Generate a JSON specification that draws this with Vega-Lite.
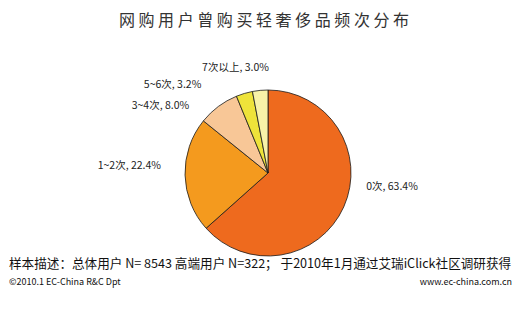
{
  "$schema": "https://vega.github.io/schema/vega-lite/v6.json",
  "padding": {"left": 0, "top": 13, "right": 0, "bottom": 0},
  "background": "white",
  "config": {"view": {"stroke": null}, "font": "Noto Sans CJK SC", "text": {"font": "Noto Sans CJK SC"}},
  "title": {"text": "网 购 用 户 曾 购 买 轻 奢 侈 品 频 次 分 布", "fontSize": 16, "fontWeight": "normal", "color": "#333333", "anchor": "middle", "offset": 26, "dx": -4, "font": "Noto Sans CJK SC"},
  "spacing": 18,
  "bounds": "flush",
  "vconcat": [
    {
      "width": 536,
      "height": 192,
      "data": {"values": [
        {"idx": 1, "cat": "0次", "share": 63.4, "label": "0次, 63.4%"},
        {"idx": 2, "cat": "1~2次", "share": 22.4, "label": "1~2次, 22.4%"},
        {"idx": 3, "cat": "3~4次", "share": 8.0, "label": "3~4次, 8.0%"},
        {"idx": 4, "cat": "5~6次", "share": 3.2, "label": "5~6次, 3.2%"},
        {"idx": 5, "cat": "7次以上", "share": 3.0, "label": "7次以上, 3.0%"}
      ]},
      "encoding": {
        "theta": {"field": "share", "type": "quantitative", "stack": true},
        "order": {"field": "idx", "type": "quantitative"}
      },
      "layer": [
        {
          "mark": {"type": "arc", "radius": 83, "stroke": "#1a1a1a", "strokeWidth": 0.8},
          "encoding": {
            "color": {"field": "cat", "type": "nominal", "legend": null,
              "scale": {"domain": ["0次", "1~2次", "3~4次", "5~6次", "7次以上"],
                        "range": ["#EE6A1E", "#F49A1E", "#F8C797", "#EEE33A", "#F8F2A8"]}}
          }
        },
        {
          "mark": {"type": "text", "radius": 90, "align": "left", "baseline": "middle", "dx": 16, "dy": -23, "fontSize": 10.5, "color": "#222222"},
          "encoding": {"text": {"condition": {"test": "datum.cat === '0次'", "field": "label"}, "value": ""}}
        },
        {
          "mark": {"type": "text", "radius": 90, "align": "right", "baseline": "middle", "dx": -17, "dy": -9, "fontSize": 10.5, "color": "#222222"},
          "encoding": {"text": {"condition": {"test": "datum.cat === '1~2次'", "field": "label"}, "value": ""}}
        },
        {
          "mark": {"type": "text", "radius": 90, "align": "right", "baseline": "middle", "dx": -25, "dy": 5, "fontSize": 10.5, "color": "#222222"},
          "encoding": {"text": {"condition": {"test": "datum.cat === '3~4次'", "field": "label"}, "value": ""}}
        },
        {
          "mark": {"type": "text", "radius": 90, "align": "right", "baseline": "middle", "dx": -41, "dy": -2, "fontSize": 10.5, "color": "#222222"},
          "encoding": {"text": {"condition": {"test": "datum.cat === '5~6次'", "field": "label"}, "value": ""}}
        },
        {
          "mark": {"type": "text", "radius": 90, "align": "center", "baseline": "middle", "dx": -24, "dy": -15, "fontSize": 10.5, "color": "#222222"},
          "encoding": {"text": {"condition": {"test": "datum.cat === '7次以上'", "field": "label"}, "value": ""}}
        }
      ]
    },
    {
      "bounds": "flush",
      "spacing": 0,
      "hconcat": [
        {
          "width": 400,
          "height": 1,
          "data": {"values": []},
          "mark": "text",
          "title": {"text": "样本描述：总体用户 N= 8543  高端用户 N=322； 于2010年1月通过艾瑞iClick社区调研获得", "subtitle": "©2010.1 EC-China R&C Dpt", "anchor": "start", "orient": "top", "fontSize": 12.6, "fontWeight": "normal", "color": "#111111", "subtitleFontSize": 9, "subtitleColor": "#111111", "subtitlePadding": 7.5, "dx": 9, "offset": 0, "font": "Noto Sans CJK SC", "subtitleFont": "Noto Sans CJK SC"}
        },
        {
          "width": 128,
          "height": 1,
          "data": {"values": []},
          "mark": "text",
          "title": {"text": "www.ec-china.com.cn", "anchor": "end", "orient": "top", "fontSize": 9, "fontWeight": "normal", "color": "#111111", "dx": -16, "offset": 0, "font": "Noto Sans CJK SC"}
        }
      ]
    }
  ]
}
